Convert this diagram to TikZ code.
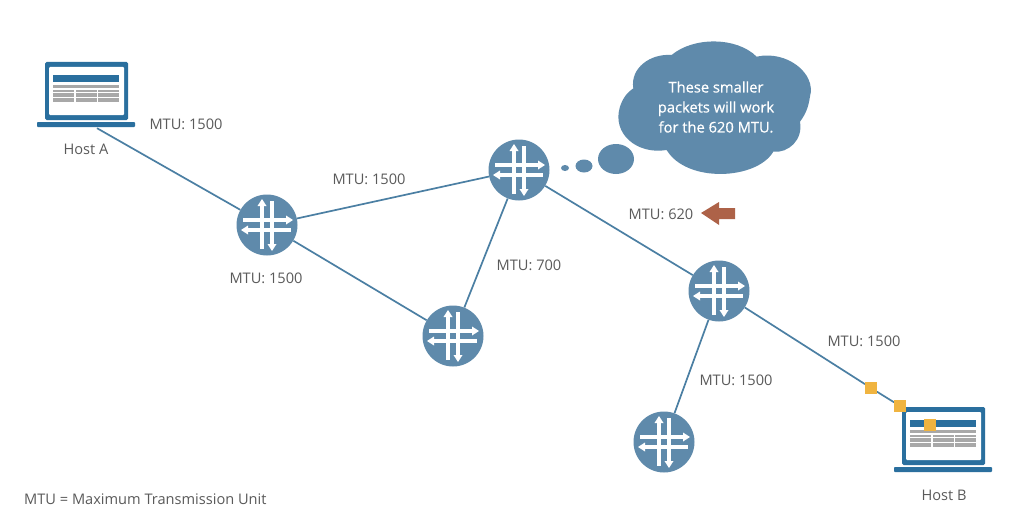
\documentclass[tikz,border=0pt]{standalone}
\usepackage{fontspec}
\setmainfont{Open Sans}
\newfontfamily\cloudfont[FakeBold=0.6]{Open Sans}
\usetikzlibrary{arrows.meta}
\pgfdeclarelayer{canvas}
\pgfdeclarelayer{links}
\pgfsetlayers{canvas,links,main}
\definecolor{cloudblue}{HTML}{5F8AAB}
\definecolor{laptopblue}{HTML}{2A6F9E}
\definecolor{linkblue}{HTML}{4B7FA3}
\definecolor{txtgray}{HTML}{5A5A5A}
\definecolor{stripegray}{HTML}{A8A8A8}
\definecolor{barbrown}{HTML}{AD6248}
\definecolor{pktyellow}{HTML}{F0B440}
\tikzset{
  every picture/.style={x=1pt,y=-1pt},
  routerbox/.style={circle,fill=cloudblue,minimum size=61pt,inner sep=0pt},
  hostbox/.style={rectangle,minimum width=98pt,minimum height=66pt,inner sep=0pt},
  lbl/.style={text=txtgray,inner sep=0pt,font=\fontsize{14.6}{17}\selectfont},
  cloudtxt/.style={text=white,inner sep=0pt,align=center,font=\cloudfont\fontsize{14.7}{20}\selectfont},
  link/.style={draw=linkblue,line width=1.7pt},
  pkt/.style={rectangle,fill=pktyellow,minimum size=11.5pt,inner sep=0pt},
  glyphline/.style={draw=white,line width=3.4pt},
  glyphhead/.style={fill=white},
  puff/.style={fill=cloudblue},
  stripe/.style={fill=stripegray},
  routerglyph/.pic={
    \path[glyphline] (-24,-5) -- (20,-5);
    \path[glyphline] (-20,5) -- (24,5);
    \path[glyphline] (-5,-20) -- (-5,24);
    \path[glyphline] (5,-24) -- (5,20);
    \path[glyphhead] (26,-5) -- (19,-9.5) -- (19,-0.5) -- cycle;
    \path[glyphhead] (-26,5) -- (-19,0.5) -- (-19,9.5) -- cycle;
    \path[glyphhead] (-5,-26) -- (-9.5,-19) -- (-0.5,-19) -- cycle;
    \path[glyphhead] (5,26) -- (0.5,19) -- (9.5,19) -- cycle;
  },
  laptop/.pic={
    \fill[laptopblue,rounded corners=1.5pt] (8,0) rectangle (91,58);
    \fill[white,rounded corners=1pt] (12,5) rectangle (87,53);
    \fill[laptopblue,rounded corners=0.8pt] (0,60) rectangle (98,65);
    \fill[laptopblue] (16,13) rectangle (82,20);
    \fill[stripegray] (16,23) rectangle (82,26);
    \foreach \cx in {16,38.5,61}{
      \foreach \sy in {28,30.6,33.2,35.8,38.4}{
        \path[stripe] (\cx,\sy) rectangle ++(21,2);
      }
    }
  }
}
\begin{document}
\begin{tikzpicture}
\begin{pgfonlayer}{canvas}
\fill[white] (0,0) rectangle (1017,511);
\end{pgfonlayer}
\useasboundingbox (0,0) rectangle (1017,511);

% hosts
\node[hostbox] (hostA) at (86,95) {};
\pic at (37,62) {laptop};
\node[hostbox] (hostB) at (943,440) {};
\pic at (894,407) {laptop};

% routers
\node[routerbox] (r1) at (267,225) {};
\node[routerbox] (r2) at (519,170) {};
\node[routerbox] (r3) at (453,336) {};
\node[routerbox] (r4) at (719,291) {};
\node[routerbox] (r5) at (664,442) {};
\foreach \n in {r1,r2,r3,r4,r5}{\pic at (\n) {routerglyph};}

% packets
\node[pkt] (p1) at (871,388) {};
\node[pkt] (p2) at (900,406) {};
\node[pkt] (p3) at (930,425) {};

% links
\begin{pgfonlayer}{links}
\draw[link] ([xshift=11pt]hostA.south) -- (r1);
\draw[link] (r1) -- (r2);
\draw[link] (r1) -- (r3);
\draw[link] (r2) -- (r3);
\draw[link] (r2) -- (r4);
\draw[link] (r4) -- (r5);
\draw[link] (r4) -- (p1);
\draw[link] (p1) -- (p2);
\end{pgfonlayer}

% thought cloud
\begin{scope}[shift={(480,40)},x=0.3333pt,y=-0.3333pt]
\path[puff] (460,145) .. controls (450,85) and (510,40) .. (575,45)
  .. controls (640,-10) and (770,-10) .. (830,50)
  .. controls (920,30) and (1010,100) .. (990,170)
  .. controls (985,205) and (975,225) .. (960,245)
  .. controls (970,300) and (925,340) .. (880,335)
  .. controls (830,420) and (620,430) .. (560,330)
  .. controls (470,345) and (395,280) .. (420,200)
  .. controls (430,170) and (445,155) .. (460,145) -- cycle;
\end{scope}
\fill[puff] (616,159) ellipse [x radius=18, y radius=15];
\fill[puff] (584,166) ellipse [x radius=8.5, y radius=6.5];
\fill[puff] (565,168) ellipse [x radius=4, y radius=3];
\node[cloudtxt] (cloudtext) at (716,107) {These smaller\\packets will work\\for the 620 MTU.};

% reduced-MTU arrow
\fill[barbrown] (701,213) -- (719,202) -- (719,208) -- (735,208) -- (735,219) -- (719,219) -- (719,225) -- cycle;

% labels
\node[lbl] (l1) at (186,124) {MTU: 1500};
\node[lbl] (l2) at (369,179) {MTU: 1500};
\node[lbl] (l3) at (266,278) {MTU: 1500};
\node[lbl] (l4) at (529,265) {MTU: 700};
\node[lbl] (l5) at (661,214) {MTU: 620};
\node[lbl] (l6) at (864,341) {MTU: 1500};
\node[lbl] (l7) at (736,380) {MTU: 1500};
\node[lbl] (hA) at (86,149) {Host A};
\node[lbl] (hB) at (944,495) {Host B};
\node[lbl,anchor=west] (key) at (24,499) {MTU = Maximum Transmission Unit};
\end{tikzpicture}
\end{document}
